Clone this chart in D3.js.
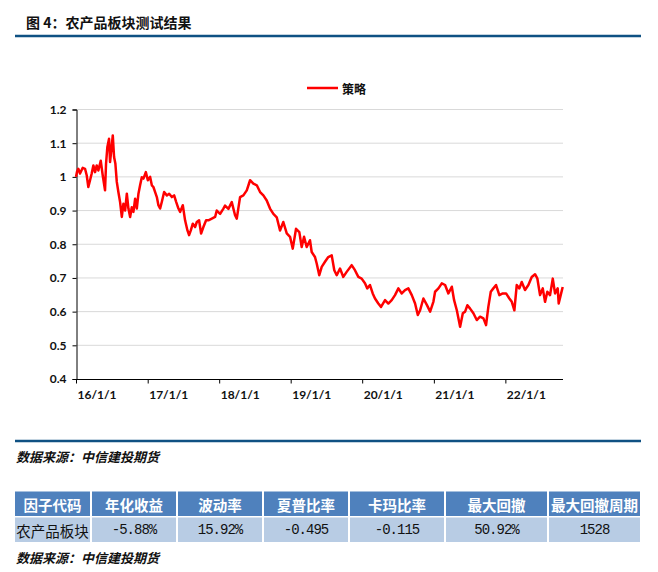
<!DOCTYPE html>
<html><head><meta charset="utf-8">
<script src="https://cdn.jsdelivr.net/npm/d3@7/dist/d3.min.js"></script>
<style>body{margin:0;background:#fff}svg{display:block}</style>
</head><body>
<script>
// ---------- data ----------
const titleText = "图 4：农产品板块测试结果";
const sourceText = "数据来源：中信建投期货";
const seriesName = "策略";
const yTickValues = [0.4, 0.5, 0.6, 0.7, 0.8, 0.9, 1.0, 1.1, 1.2];
const xTickDates = ["2016-01-01","2017-01-01","2018-01-01","2019-01-01","2020-01-01","2021-01-01","2022-01-01"];
const xTickLabels = ["16/1/1","17/1/1","18/1/1","19/1/1","20/1/1","21/1/1","22/1/1"];
// dates as decimal years
const dates = [2016.000,2016.014,2016.032,2016.056,2016.094,2016.126,2016.150,2016.172,2016.196,2016.219,
2016.242,2016.266,2016.289,2016.312,2016.345,2016.373,2016.405,2016.419,2016.437,2016.461,
2016.475,2016.499,2016.513,2016.531,2016.549,2016.569,2016.591,2016.615,2016.639,2016.661,
2016.685,2016.709,2016.731,2016.755,2016.778,2016.801,2016.825,2016.848,2016.871,2016.894,
2016.918,2016.941,2016.974,2017.002,2017.034,2017.058,2017.080,2017.104,2017.128,2017.150,
2017.174,2017.198,2017.230,2017.268,2017.300,2017.338,2017.370,2017.398,2017.430,2017.454,
2017.491,2017.523,2017.556,2017.579,2017.603,2017.631,2017.663,2017.687,2017.719,2017.747,
2017.779,2017.817,2017.849,2017.897,2017.943,2017.966,2018.013,2018.059,2018.082,2018.129,
2018.176,2018.222,2018.246,2018.292,2018.338,2018.386,2018.432,2018.478,2018.526,2018.572,
2018.618,2018.665,2018.711,2018.758,2018.805,2018.851,2018.897,2018.945,2018.991,2019.029,
2019.075,2019.121,2019.154,2019.187,2019.224,2019.270,2019.294,2019.340,2019.364,2019.400,
2019.434,2019.480,2019.526,2019.574,2019.610,2019.644,2019.690,2019.736,2019.783,2019.853,
2019.899,2019.946,2019.993,2020.039,2020.071,2020.109,2020.147,2020.179,2020.225,2020.263,
2020.319,2020.365,2020.412,2020.458,2020.505,2020.552,2020.598,2020.644,2020.692,2020.738,
2020.776,2020.808,2020.854,2020.902,2020.948,2020.994,2021.017,2021.064,2021.111,2021.157,
2021.203,2021.251,2021.283,2021.321,2021.367,2021.405,2021.437,2021.469,2021.507,2021.553,
2021.600,2021.646,2021.693,2021.730,2021.762,2021.796,2021.832,2021.870,2021.916,2021.964,
2022.010,2022.056,2022.090,2022.126,2022.159,2022.196,2022.229,2022.275,2022.322,2022.369,
2022.415,2022.447,2022.485,2022.523,2022.555,2022.587,2022.625,2022.663,2022.695,2022.732,
2022.746,2022.774,2022.802];
const values = [1.000,1.015,1.024,1.010,1.027,1.024,1.004,0.970,0.990,1.010,
1.034,1.014,1.034,1.019,1.048,1.004,0.960,1.039,1.088,1.113,
1.044,1.093,1.123,1.059,1.040,0.985,0.955,0.925,0.881,0.920,
0.900,0.950,0.906,0.881,0.910,0.896,0.935,0.906,0.950,0.975,
0.999,0.995,1.014,0.990,1.000,0.975,0.970,0.955,0.940,0.916,
0.906,0.926,0.955,0.945,0.950,0.940,0.945,0.926,0.906,0.896,
0.916,0.871,0.841,0.827,0.841,0.861,0.851,0.866,0.871,0.832,
0.851,0.871,0.871,0.876,0.881,0.900,0.890,0.906,0.915,0.905,
0.925,0.886,0.876,0.940,0.945,0.960,0.990,0.980,0.975,0.955,
0.945,0.930,0.906,0.890,0.880,0.841,0.866,0.832,0.822,0.787,
0.846,0.836,0.792,0.822,0.792,0.812,0.777,0.762,0.743,0.708,
0.733,0.748,0.762,0.767,0.723,0.708,0.728,0.703,0.718,0.738,
0.723,0.703,0.698,0.684,0.669,0.679,0.654,0.639,0.624,0.614,
0.634,0.624,0.634,0.649,0.669,0.654,0.664,0.669,0.649,0.624,
0.590,0.604,0.639,0.620,0.600,0.630,0.659,0.669,0.684,0.679,
0.654,0.674,0.634,0.604,0.555,0.595,0.600,0.619,0.609,0.595,
0.575,0.585,0.580,0.560,0.614,0.659,0.669,0.679,0.649,0.654,
0.654,0.639,0.629,0.604,0.679,0.669,0.688,0.664,0.679,0.703,
0.711,0.699,0.649,0.669,0.629,0.659,0.649,0.698,0.654,0.669,
0.624,0.649,0.673];
const tableHeaders = ["因子代码","年化收益","波动率","夏普比率","卡玛比率","最大回撤","最大回撤周期"];
const tableRow = ["农产品板块","-5.88%","15.92%","-0.495","-0.115","50.92%","1528"];

// ---------- layout ----------
const W = 658, H = 572;
const svg = d3.select("body").append("svg").attr("width", W).attr("height", H);
const cjk = "'Noto Sans CJK SC','Noto Sans',sans-serif";
const latin = "Lato,'Noto Sans',sans-serif";
const blueLine = "#0f5183";

// title
svg.append("text").attr("x", 26).attr("y", 22).attr("dominant-baseline", "central")
  .style("font-family", cjk).style("font-weight", 700).style("font-size", "14px").style("fill", "#111")
  .text(titleText);
svg.append("line").attr("x1", 15).attr("x2", 641).attr("y1", 36).attr("y2", 36)
  .attr("stroke", blueLine).attr("stroke-width", 2.5);

// scales
function yd(t) {
  const y = Math.floor(t);
  const s = Date.UTC(y, 0, 1), e = Date.UTC(y + 1, 0, 1);
  return new Date(s + (t - y) * (e - s));
}
const pts = dates.map((d, i) => ({ date: yd(d), v: values[i] }));
const x = d3.scaleUtc().domain([new Date(Date.UTC(2016, 0, 1)), pts[pts.length - 1].date]).range([76, 562.7]);
const y = d3.scaleLinear().domain([0.4, 1.2]).range([379, 109.5]);

// gridlines
svg.append("g").selectAll("line").data(yTickValues.filter(v => v > 0.4)).join("line")
  .attr("x1", 76).attr("x2", 563).attr("y1", d => y(d)).attr("y2", d => y(d))
  .attr("stroke", "#d9d9d9").attr("stroke-width", 1);

// y axis
const yAxis = d3.axisLeft(y).tickValues(yTickValues).tickSize(4).tickPadding(6)
  .tickFormat(d => d3.format("")(+d.toFixed(1)));
const gy = svg.append("g").attr("transform", "translate(76.5,0)").call(yAxis);
gy.select(".domain").attr("stroke", "#000");
gy.selectAll(".tick line").attr("stroke", "#000");
gy.selectAll("text").style("font-family", latin).style("font-weight", 700).style("font-size", "12px").style("fill", "#111");

// x axis
const xTicks = xTickDates.map(s => new Date(s + "T00:00:00Z"));
const xAxis = d3.axisBottom(x).tickValues(xTicks).tickSize(4).tickSizeOuter(0)
  .tickFormat((d, i) => xTickLabels[i]);
const gx = svg.append("g").attr("transform", "translate(0,379.5)").call(xAxis);
gx.select(".domain").attr("stroke", "#000").attr("d", `M76,0H563`);
gx.selectAll(".tick line").attr("stroke", "#000");
gx.selectAll("text").attr("text-anchor", "start").attr("x", 1).attr("y", 11).attr("dy", "0.71em")
  .style("font-family", latin).style("font-weight", 700).style("font-size", "12px").style("fill", "#111");

// line
svg.append("path").datum(pts)
  .attr("d", d3.line().x(d => x(d.date)).y(d => y(d.v)))
  .attr("fill", "none").attr("stroke", "#ff0000").attr("stroke-width", 2.5).attr("stroke-linejoin", "round");

// legend
svg.append("line").attr("x1", 307).attr("x2", 338).attr("y1", 88).attr("y2", 88)
  .attr("stroke", "#ff0000").attr("stroke-width", 2.5);
svg.append("text").attr("x", 342).attr("y", 88).attr("dominant-baseline", "central")
  .style("font-family", cjk).style("font-weight", 700).style("font-size", "12px").style("fill", "#111")
  .text(seriesName);

// bottom rule + source
svg.append("line").attr("x1", 15).attr("x2", 641).attr("y1", 441).attr("y2", 441)
  .attr("stroke", blueLine).attr("stroke-width", 2.5);
function source(yy) {
  svg.append("text").attr("x", 16).attr("y", yy).attr("dominant-baseline", "central")
    .style("font-family", cjk).style("font-weight", 700).style("font-style", "italic")
    .style("font-size", "13px").style("fill", "#111").text(sourceText);
}
source(456);

// table
const colEdges = [15, 91, 177, 263, 349, 445, 548, 640];
const rowTop = [491.5, 517.5], rowBot = [516, 542];
const gT = svg.append("g");
tableHeaders.forEach((h, i) => {
  const x0 = colEdges[i] + (i ? 1 : 0), x1 = colEdges[i + 1] - (i < 6 ? 1 : 0);
  gT.append("rect").attr("x", x0).attr("y", rowTop[0]).attr("width", x1 - x0).attr("height", rowBot[0] - rowTop[0]).attr("fill", "#4f81bd");
  gT.append("rect").attr("x", x0).attr("y", rowTop[1]).attr("width", x1 - x0).attr("height", rowBot[1] - rowTop[1]).attr("fill", "#b8cce4");
  gT.append("text").attr("x", (x0 + x1) / 2).attr("y", 504).attr("text-anchor", "middle").attr("dominant-baseline", "central")
    .style("font-family", cjk).style("font-weight", 700).style("font-size", "14.5px").style("fill", "#fff").text(h);
  const isNum = i > 0;
  gT.append("text").attr("x", (x0 + x1) / 2).attr("y", 530).attr("text-anchor", "middle").attr("dominant-baseline", "central")
    .style("font-family", isNum ? "'Liberation Mono',monospace" : cjk)
    .style("font-size", isNum ? "14px" : "14.5px").style("letter-spacing", isNum ? "-1px" : "0")
    .style("fill", "#111").text(tableRow[i]);
});
source(557);
</script>
</body></html>
